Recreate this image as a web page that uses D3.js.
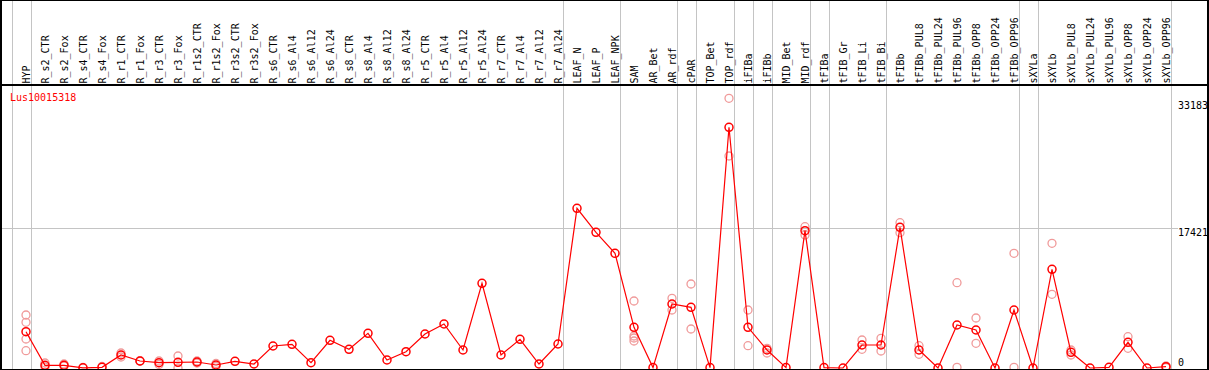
<!DOCTYPE html>
<html>
<head>
<meta charset="utf-8">
<script src="https://cdn.jsdelivr.net/npm/d3@7"></script>
<style>
  html, body { margin: 0; padding: 0; background: #fff; }
  svg { display: block; font-family: "DejaVu Sans Mono", monospace; font-size: 10px; }
</style>
</head>
<body>
<svg id="geneChart" width="1209" height="370"></svg>
<script>
// Mostres (columnes)
const samples = [
  "HYP",
  "R_s2_CTR", "R_s2_Fox", "R_s4_CTR", "R_s4_Fox", "R_r1_CTR", "R_r1_Fox", "R_r3_CTR", "R_r3_Fox",
  "R_r1s2_CTR", "R_r1s2_Fox", "R_r3s2_CTR", "R_r3s2_Fox",
  "R_s6_CTR", "R_s6_Al4", "R_s6_Al12", "R_s6_Al24", "R_s8_CTR", "R_s8_Al4", "R_s8_Al12", "R_s8_Al24",
  "R_r5_CTR", "R_r5_Al4", "R_r5_Al12", "R_r5_Al24", "R_r7_CTR", "R_r7_Al4", "R_r7_Al12", "R_r7_Al24",
  "LEAF_N", "LEAF_P", "LEAF_NPK", "SAM", "AR_Bet", "AR_rdf", "cPAR", "TOP_Bet", "TOP_rdf",
  "iFIBa", "iFIBb", "MID_Bet", "MID_rdf", "tFIBa", "tFIB_Gr", "tFIB_Li", "tFIB_Bi", "tFIBb",
  "tFIBb_PUL8", "tFIBb_PUL24", "tFIBb_PUL96", "tFIBb_OPP8", "tFIBb_OPP24", "tFIBb_OPP96",
  "sXYLa", "sXYLb", "sXYLb_PUL8", "sXYLb_PUL24", "sXYLb_PUL96", "sXYLb_OPP8", "sXYLb_OPP24", "sXYLb_OPP96"
];

// Mitjanes
const means = [
  4520,
  336, 336, 20, 87, 1618, 871, 660, 709,
  747, 373, 834, 498,
  2738, 2949, 660, 3447, 2327, 4318, 996, 2028,
  4231, 5475, 2240, 10540, 1618, 3571, 498, 2987,
  19873, 16887, 14273, 5065, 50, 7964, 7553, 50, 29953,
  5065, 2240, 50, 17086, 50, 0, 2862, 2862, 17509,
  2240, 0, 5351, 4729, 0, 7217,
  0, 12282, 1954, 0, 87, 3198, 0, 162
];

// Rèpliques (mostra, valor)
const replicates = [
  ["HYP", 6595], ["HYP", 5687], ["HYP", 3609], ["HYP", 2153],
  ["R_s2_CTR", 622], ["R_s2_CTR", 124], ["R_s2_Fox", 498], ["R_s2_Fox", 249],
  ["R_s4_CTR", 62], ["R_s4_Fox", 187],
  ["R_r1_CTR", 1867], ["R_r1_CTR", 1369], ["R_r1_Fox", 830], ["R_r1_Fox", 910],
  ["R_r3_CTR", 871], ["R_r3_CTR", 436], ["R_r3_Fox", 1493], ["R_r3_Fox", 0],
  ["R_r1s2_CTR", 871], ["R_r1s2_CTR", 622], ["R_r1s2_Fox", 560], ["R_r1s2_Fox", 187],
  ["SAM", 8338], ["SAM", 3982], ["SAM", 3733], ["SAM", 3360],
  ["AR_rdf", 8674], ["AR_rdf", 7218],
  ["cPAR", 10453], ["cPAR", 4853],
  ["TOP_rdf", 33562], ["TOP_rdf", 26382],
  ["iFIBa", 7218], ["iFIBa", 2775],
  ["iFIBb", 2451], ["iFIBb", 1867],
  ["MID_rdf", 17583], ["MID_rdf", 16550],
  ["tFIB_Li", 3484], ["tFIB_Li", 2327],
  ["tFIB_Bi", 3696], ["tFIB_Bi", 2115],
  ["tFIBb", 18081], ["tFIBb", 16837],
  ["tFIBb_PUL8", 2775], ["tFIBb_PUL8", 1705],
  ["tFIBb_PUL96", 10615], ["tFIBb_PUL96", 87],
  ["tFIBb_OPP8", 6222], ["tFIBb_OPP8", 3074],
  ["tFIBb_OPP96", 14273], ["tFIBb_OPP96", 87],
  ["sXYLb", 15518], ["sXYLb", 9171],
  ["sXYLb_PUL8", 2240], ["sXYLb_PUL8", 1618],
  ["sXYLb_OPP8", 3895], ["sXYLb_OPP8", 2451],
  ["sXYLb_OPP96", 249], ["sXYLb_OPP96", 62]
];

// Últimes mostres de cada grup (línies de separació)
const groupEnds = ["HYP", "R_r7_Al24", "LEAF_NPK", "AR_rdf", "cPAR", "TOP_rdf", "iFIBa", "iFIBb",
  "MID_rdf", "tFIBa", "tFIB_Bi", "tFIBb_OPP96", "sXYLa", "sXYLb_OPP96"];

const yTicks = [0, 17421, 33183];
const geneName = "Lus10015318";

const W = 1209, H = 370;
const headerY = 85;

const svg = d3.select("#geneChart");

// Escala X (mostres)
const x = d3.scalePoint()
  .domain(samples)
  .range([26, 26 + 19 * (samples.length - 1)]);

// Escala Y (expressió)
const y = d3.scaleLinear()
  .domain([0, 17421])
  .range([368, 228]);

// Línies verticals grises
const sep = [x(samples[0]) - 19 + 4.5].concat(groupEnds.map(s => x(s) + 4.5));
svg.selectAll(".sep")
  .data(sep)
  .enter()
  .append("line")
  .attr("class", "sep")
  .attr("x1", d => Math.round(d) + 0.5)
  .attr("x2", d => Math.round(d) + 0.5)
  .attr("y1", 0)
  .attr("y2", H)
  .attr("stroke", "#c4c4c4")
  .attr("stroke-width", 1);

// Línia horitzontal al tick del mig
svg.append("line")
  .attr("x1", 0)
  .attr("x2", 1178)
  .attr("y1", Math.round(y(yTicks[1])) + 0.5)
  .attr("y2", Math.round(y(yTicks[1])) + 0.5)
  .attr("stroke", "#c4c4c4")
  .attr("stroke-width", 1);

// Etiquetes de les mostres (verticals)
svg.selectAll(".sample-label")
  .data(samples)
  .enter()
  .append("text")
  .attr("class", "sample-label")
  .attr("transform", d => `translate(${x(d) + 3.5},${headerY - 1.5}) rotate(-90)`)
  .attr("fill", "#000")
  .text(d => d);

// Nom del gen
svg.append("text")
  .attr("x", 10)
  .attr("y", 101)
  .attr("fill", "#ff0000")
  .text(geneName);

// Etiquetes eix Y (a la dreta)
svg.selectAll(".y-label")
  .data(yTicks)
  .enter()
  .append("text")
  .attr("class", "y-label")
  .attr("x", 1178)
  .attr("y", d => Math.min(y(d) + 8, 365.5))
  .attr("fill", "#000")
  .text(d => d);

// Rèpliques
svg.selectAll(".rep")
  .data(replicates)
  .enter()
  .append("circle")
  .attr("class", "rep")
  .attr("cx", d => x(d[0]))
  .attr("cy", d => y(d[1]))
  .attr("r", 4)
  .attr("fill", "none")
  .attr("stroke", "#f09a9a")
  .attr("stroke-width", 1.3);

// Línia de mitjanes
const meanData = samples.map((s, i) => ({ s: s, v: means[i] }));
svg.append("path")
  .datum(meanData)
  .attr("fill", "none")
  .attr("stroke", "#ff0000")
  .attr("stroke-width", 1.2)
  .attr("d", d3.line().x(d => x(d.s)).y(d => y(d.v)));

svg.selectAll(".mean")
  .data(meanData)
  .enter()
  .append("circle")
  .attr("class", "mean")
  .attr("cx", d => x(d.s))
  .attr("cy", d => y(d.v))
  .attr("r", 4)
  .attr("fill", "none")
  .attr("stroke", "#ff0000")
  .attr("stroke-width", 1.5);

// Marc i línia de capçalera
svg.append("rect").attr("x", 0).attr("y", 0).attr("width", 2).attr("height", H).attr("fill", "#000");
svg.append("rect").attr("x", 0).attr("y", 0).attr("width", W).attr("height", 1).attr("fill", "#000");
svg.append("rect").attr("x", 0).attr("y", 369).attr("width", W).attr("height", 1).attr("fill", "#000");
svg.append("rect").attr("x", 1207).attr("y", 0).attr("width", 2).attr("height", H).attr("fill", "#000");
svg.append("rect").attr("x", 0).attr("y", headerY - 1).attr("width", W).attr("height", 2).attr("fill", "#000");
</script>
</body>
</html>
